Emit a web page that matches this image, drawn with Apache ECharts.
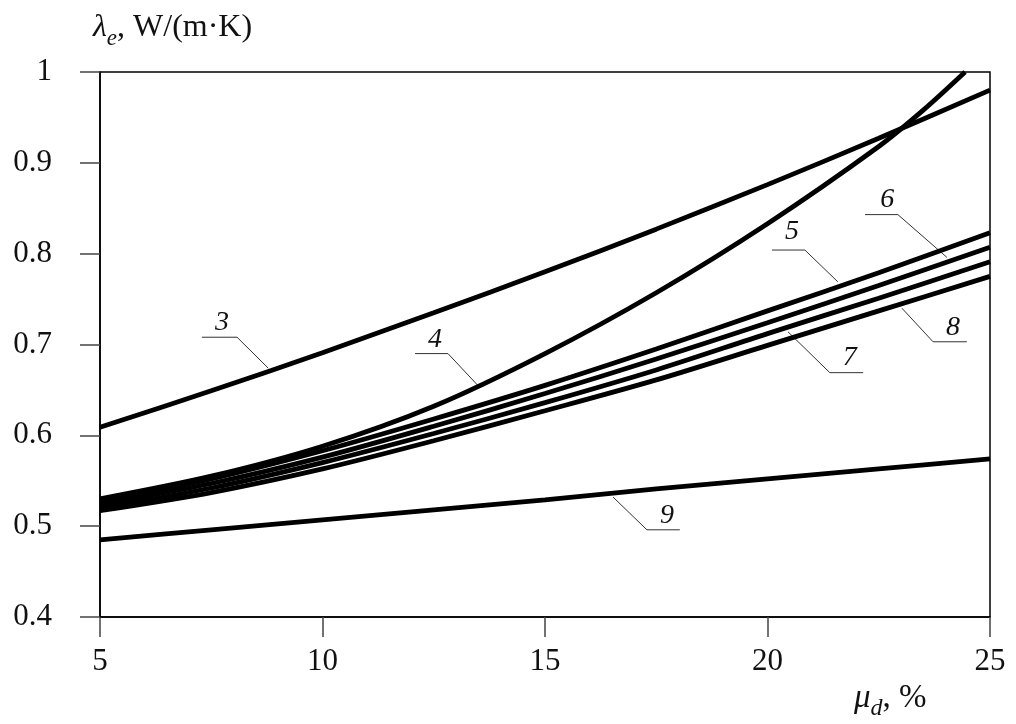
<!DOCTYPE html>
<html><head><meta charset="utf-8">
<script src="https://cdn.jsdelivr.net/npm/echarts@6/dist/echarts.min.js"></script>
<style>html,body{margin:0;padding:0;background:#fff}#c{width:1016px;height:724px}</style>
</head><body><div id="c"></div>
<script>
// ---- data ----
const xTicks = [5, 10, 15, 20, 25];
const yTicks = [0.4, 0.5, 0.6, 0.7, 0.8, 0.9, 1];
const mu = [5, 7.5, 10, 12.5, 15, 17.5, 20, 22.5, 25];
const curve3 = [0.609, 0.649, 0.691, 0.735, 0.780, 0.827, 0.876, 0.927, 0.980];
const mu4 = [5, 7.5, 10, 12.5, 15, 17.5, 20, 22.5, 23.5, 24.44];
const curve4 = [0.530, 0.555, 0.588, 0.632, 0.690, 0.757, 0.833, 0.918, 0.958, 1.0];
const curve5 = [0.527, 0.552, 0.583, 0.618, 0.655, 0.695, 0.737, 0.779, 0.823];
const curve6 = [0.524, 0.547, 0.576, 0.610, 0.646, 0.684, 0.724, 0.765, 0.807];
const curve7 = [0.520, 0.542, 0.570, 0.602, 0.636, 0.672, 0.712, 0.751, 0.791];
const curve8 = [0.517, 0.537, 0.563, 0.594, 0.627, 0.661, 0.699, 0.737, 0.775];
const curve9 = [0.485, 0.496, 0.507, 0.518, 0.529, 0.541, 0.552, 0.563, 0.574];
// curve labels and their leader lines (data units)
const labelNames = ['3', '4', '5', '6', '7', '8', '9'];
const labelX = [7.74, 12.53, 20.55, 22.69, 21.85, 24.17, 17.74];
const labelY = [0.724, 0.705, 0.824, 0.859, 0.686, 0.719, 0.512];
const leaderX = [[7.29, 8.08, 8.78], [12.08, 12.82, 13.49], [20.10, 20.84, 21.58], [22.19, 22.93, 24.03], [22.15, 21.40, 20.46], [24.48, 23.72, 23.02], [18.03, 17.29, 16.53]];
const leaderY = [[0.708, 0.708, 0.674], [0.690, 0.690, 0.655], [0.804, 0.804, 0.769], [0.843, 0.843, 0.796], [0.669, 0.669, 0.714], [0.703, 0.703, 0.740], [0.496, 0.496, 0.532]];

const FONT = '"Liberation Serif", "DejaVu Serif", serif';
const zip = (xs, ys) => xs.map((x, i) => [x, ys[i]]);
const curveSeries = (name, xs, ys) => ({
  name, type: 'line', data: zip(xs, ys), smooth: 0.3, showSymbol: false, symbol: 'none',
  lineStyle: { color: '#000', width: 4.8 }, z: 5, silent: true, clip: true
});

const series = [
  curveSeries('3', mu, curve3),
  curveSeries('4', mu4, curve4),
  curveSeries('5', mu, curve5),
  curveSeries('6', mu, curve6),
  curveSeries('7', mu, curve7),
  curveSeries('8', mu, curve8),
  curveSeries('9', mu, curve9)
];
leaderX.forEach((xs, i) => series.push({
  type: 'line', data: zip(xs, leaderY[i]), showSymbol: false, symbol: 'none', silent: true,
  lineStyle: { color: '#333', width: 1 }, z: 3
}));
series.push({
  type: 'scatter', symbol: 'circle', symbolSize: 2, silent: true, z: 6,
  itemStyle: { color: 'rgba(255,255,255,0)' },
  data: labelNames.map((n, i) => ({ name: n, value: [labelX[i], labelY[i]] })),
  label: { show: true, position: 'inside', formatter: '{b}', color: '#111', opacity: 1,
    fontFamily: FONT, fontStyle: 'italic', fontSize: 28 }
});

const chart = echarts.init(document.getElementById('c'), null, { renderer: 'canvas' });
chart.setOption({
  animation: false,
  backgroundColor: '#fff',
  grid: { left: 100, right: 26, top: 72, bottom: 107, show: true, borderColor: '#000', borderWidth: 1.5, backgroundColor: 'transparent' },
  xAxis: {
    type: 'value', min: xTicks[0], max: xTicks[xTicks.length - 1], interval: 5,
    axisLine: { lineStyle: { color: '#000', width: 1.5 } },
    axisTick: { inside: false, length: 20, lineStyle: { color: '#444', width: 1.5 } },
    axisLabel: { margin: 29, color: '#111', fontFamily: FONT, fontSize: 31 },
    splitLine: { show: false }
  },
  yAxis: {
    type: 'value', min: yTicks[0], max: yTicks[yTicks.length - 1], interval: 0.1,
    axisLine: { show: true, lineStyle: { color: '#000', width: 1.5 } },
    axisTick: { show: true, inside: false, length: 20, lineStyle: { color: '#444', width: 1.5 } },
    axisLabel: { margin: 48, color: '#111', fontFamily: FONT, fontSize: 31,
      formatter: v => (Math.abs(v - 1) < 1e-9 ? '1' : v.toFixed(1)) },
    splitLine: { show: false }
  },
  graphic: [
    { type: 'text', left: 93, top: 12, style: {
      text: '{i|λ}{s|e}{n|, W/(m·K)}', fill: '#111',
      rich: {
        i: { fontFamily: FONT, fontStyle: 'italic', fontSize: 32, lineHeight: 36, verticalAlign: 'bottom', fill: '#111' },
        s: { fontFamily: FONT, fontStyle: 'italic', fontSize: 23, lineHeight: 30, verticalAlign: 'bottom', fill: '#111', padding: [0, 0, -6, 0] },
        n: { fontFamily: FONT, fontSize: 32, lineHeight: 36, verticalAlign: 'bottom', fill: '#111' }
      } } },
    { type: 'text', left: 854, top: 682, style: {
      text: '{i|μ}{s|d}{n|, %}', fill: '#111',
      rich: {
        i: { fontFamily: FONT, fontStyle: 'italic', fontSize: 33, lineHeight: 36, verticalAlign: 'bottom', fill: '#111' },
        s: { fontFamily: FONT, fontStyle: 'italic', fontSize: 24, lineHeight: 30, verticalAlign: 'bottom', fill: '#111', padding: [0, 0, -6, 0] },
        n: { fontFamily: FONT, fontSize: 33, lineHeight: 36, verticalAlign: 'bottom', fill: '#111' }
      } } }
  ],
  series
});
</script></body></html>
